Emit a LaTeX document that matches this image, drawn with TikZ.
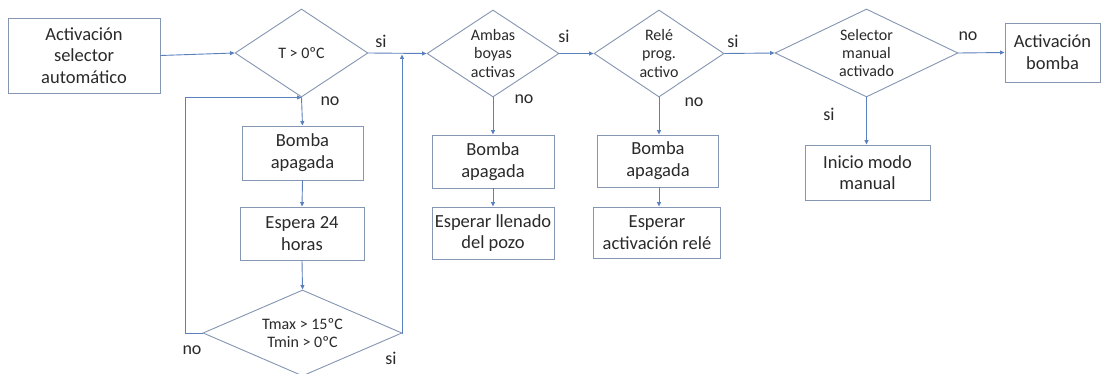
\documentclass[tikz,border=0pt]{standalone}
\usepackage{fontspec}
\setmainfont{Carlito}
\usetikzlibrary{shapes.geometric,arrows.meta}
\definecolor{edgec}{HTML}{8496B2}
\definecolor{linec}{HTML}{5B80BE}
\definecolor{txtc}{HTML}{2A2A2A}
\tikzset{
  stepbox/.style={draw=edgec,line width=0.9pt,fill=white,inner sep=0pt,align=center,text=txtc,font=\fontsize{18.5}{21.7}\selectfont},
  decis/.style={draw=edgec,line width=0.9pt,diamond,inner sep=0pt},
  dtext/.style={align=center,text=txtc,font=\fontsize{16}{18.3}\selectfont,inner sep=0pt},
  lbl/.style={text=txtc,font=\fontsize{18}{20}\selectfont,inner sep=0pt},
  conn/.style={draw=linec,line width=0.9pt,-{Triangle[length=4.5pt,width=4pt]}},
}
\begin{document}
\begin{tikzpicture}[x=1pt,y=-1pt]
\useasboundingbox[fill=white] (0,0) rectangle (1107,374);
% boxes
\node[stepbox,minimum width=152pt,minimum height=75pt] (b1) at (84,55.5) {Activación\\selector\\automático};
\node[stepbox,minimum width=121pt,minimum height=54pt] (ba1) at (302.5,153) {Bomba\\apagada};
\node[stepbox,minimum width=124pt,minimum height=53pt] (be) at (302,233.5) {Espera 24\\horas};
\node[stepbox,minimum width=122pt,minimum height=53pt] (ba2) at (493,161.5) {Bomba\\apagada};
\node[stepbox,minimum width=122pt,minimum height=52pt] (bl) at (493,233) {Esperar llenado\\del pozo};
\node[stepbox,minimum width=121pt,minimum height=52pt] (ba3) at (658,161) {Bomba\\apagada};
\node[stepbox,minimum width=127pt,minimum height=51pt] (br) at (657,232.5) {Esperar\\activación relé};
\node[stepbox,minimum width=95pt,minimum height=59pt] (bb) at (1052.5,52.5) {Activación\\bomba};
\node[stepbox,minimum width=125pt,minimum height=55pt] (bm) at (867.5,172.5) {Inicio modo\\manual};
% decisions
\node[decis,minimum width=133pt,minimum height=88pt] (d1) at (301.5,53) {};
\node[dtext] (d1t) at (d1) {T > 0ºC};
\node[decis,minimum width=199pt,minimum height=86pt] (d2) at (302.5,333) {};
\node[dtext] (d2t) at (d2) {Tmax > 15ºC\\Tmin > 0ºC};
\node[decis,minimum width=132pt,minimum height=87pt] (d3) at (493,53.5) {};
\node[dtext] (d3t) at (d3) {Ambas\\boyas\\activas};
\node[decis,minimum width=130pt,minimum height=87pt] (d4) at (659,53.5) {};
\node[dtext] (d4t) at (d4) {Relé\\prog.\\activo};
\node[decis,minimum width=183pt,minimum height=88pt] (d5) at (866.5,53) {};
\node[dtext] (d5t) at (d5) {Selector\\manual\\activado};
% connectors
\draw[conn] (b1.east) -- (d1.west);
\draw[conn] (d1.east) -- (d3.west);
\draw[conn] (d1.south) -- (ba1.north);
\draw[conn] (ba1.south) -- (be.north);
\draw[conn] (be.south) -- (d2.north);
\coordinate (lx) at (185,333);
\draw[conn] (d2.west) -- (lx) |- (d1.south);
\coordinate (rj) at (402,54.5);
\draw[conn] (d2.east) -| (rj);
\draw[conn] (d3.east) -- (d4.west);
\draw[conn] (d3.south) -- (d3.south |- ba2.north);
\draw[conn] (ba2.south) -- (ba2.south |- bl.north);
\draw[conn] (d4.east) -- (d5.west);
\draw[conn] (d4.south) -- (d4.south |- ba3.north);
\draw[conn] (d4.south |- ba3.south) -- (d4.south |- br.north);
\draw[conn] (d5.east) -- (bb.west);
\draw[conn] (d5.south) -- (d5.south |- bm.north);
% labels
\node[lbl] (l1) at (381,41) {si};
\node[lbl] (l2) at (330,101) {no};
\node[lbl] (l3) at (192,350) {no};
\node[lbl] (l4) at (391,358) {si};
\node[lbl] (l5) at (564,36) {si};
\node[lbl] (l6) at (524,99) {no};
\node[lbl] (l7) at (733,41) {si};
\node[lbl] (l8) at (694,102) {no};
\node[lbl] (l9) at (968,36) {no};
\node[lbl] (l10) at (829,114) {si};
\end{tikzpicture}
\end{document}
